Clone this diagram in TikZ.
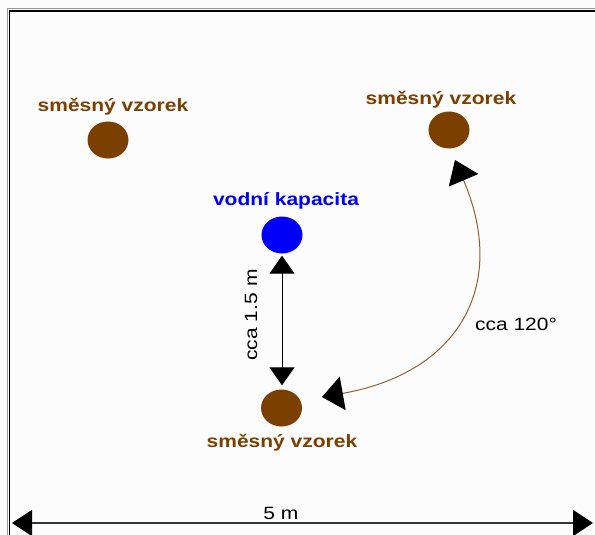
\documentclass[tikz,border=0pt]{standalone}
\usepackage{fontspec}
\setmainfont{Liberation Sans}[FakeStretch=1.18]
\usetikzlibrary{arrows.meta,shapes.geometric}
\definecolor{soil}{RGB}{123,63,0}
\definecolor{soilline}{RGB}{150,95,45}
\definecolor{water}{RGB}{0,0,250}
\definecolor{framegray}{RGB}{150,150,150}
\tikzset{
  lbl/.style={font=\fontsize{17.8}{20}\selectfont, inner sep=0pt, anchor=base},
  samplelbl/.style={lbl, font=\fontsize{17.8}{20}\selectfont\bfseries, text=soil},
  spot/.style={ellipse, minimum width=41pt, minimum height=37pt, inner sep=0pt},
  sample/.style={spot, fill=soil},
  wcap/.style={spot, fill=water},
  dimarrow/.style={line width=1pt, {Triangle[length=18pt,width=25pt]}-{Triangle[length=18pt,width=25pt]}},
  anglearrow/.style={line width=1pt, draw=soilline,
    {Triangle[length=21pt,width=34pt,color=black]}-{Triangle[length=22pt,width=32pt,color=black]}},
  widtharrow/.style={line width=1.3pt, draw=black!80,
    {Triangle[length=20pt,width=26pt,color=black]}-{Triangle[length=20pt,width=26pt,color=black]}},
}
\begin{document}
\begin{tikzpicture}[x=1pt,y=-1pt]
  \useasboundingbox (0,0) rectangle (595,535);
  \fill[white!99!black] (0,0) rectangle (595,535);

  % plot border (double line, open to the right and bottom)
  \draw[framegray, line width=1pt] (7.5,600) -- (7.5,9) -- (600,9);
  \draw[black, line width=1.3pt] (9.5,600) -- (9.5,11) -- (600,11);

  % sampling spots
  \node[sample] (s1) at (108,140) {};
  \node[sample] (s2) at (449,130) {};
  \node[wcap]   (wc) at (282,235) {};
  \node[sample] (s3) at (281.5,408) {};

  % labels
  \node[samplelbl] (t1) at (113,112) {směsný vzorek};
  \node[samplelbl] (t2) at (441,104) {směsný vzorek};
  \node[lbl, font=\fontsize{17.8}{20}\selectfont\bfseries, text=water] (t3) at (286,205) {vodní kapacita};
  \node[samplelbl] (t4) at (282,447) {směsný vzorek};

  % distance between the water-capacity spot and the sample
  \draw[dimarrow] ([yshift=-2pt]wc.south) -- ([yshift=4pt]wc.south |- s3.north);
  \node[lbl, rotate=90] (d1) at (257,315) {cca 1.5 m};

  % angle between the samples
  \coordinate (a1) at (322,397);
  \coordinate (a2) at (455,160);
  \draw[anglearrow] (a1) to[out=10, in=-67, looseness=1.3] (a2);
  \node[lbl] (d2) at (516,330) {cca 120°};

  % overall width
  \coordinate (w1) at (12,523);
  \coordinate (w2) at (593,523);
  \draw[widtharrow] (w1) -- (w2);
  \node[lbl] (d3) at (281,519) {5 m};
\end{tikzpicture}
\end{document}
